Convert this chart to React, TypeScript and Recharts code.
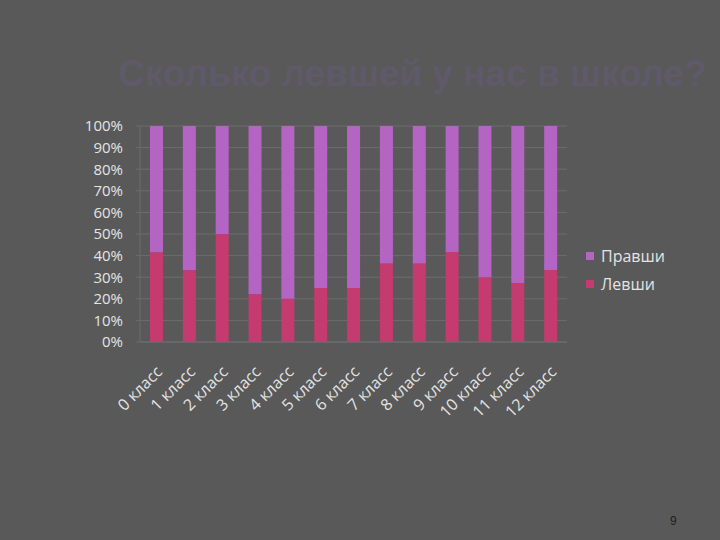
import React from "react";
import { BarChart, Bar, XAxis, YAxis, CartesianGrid } from "recharts";

const grades = ["0 класс", "1 класс", "2 класс", "3 класс", "4 класс", "5 класс", "6 класс", "7 класс", "8 класс", "9 класс", "10 класс", "11 класс", "12 класс"];
const leftHanded = [41.5, 33.3, 50, 22.2, 20, 25, 25, 36.4, 36.4, 41.7, 30, 27.3, 33.3];
const rightHanded = [58.5, 66.7, 50, 77.8, 80, 75, 75, 63.6, 63.6, 58.3, 70, 72.7, 66.7];
const yTicks = [0, 0.1, 0.2, 0.3, 0.4, 0.5, 0.6, 0.7, 0.8, 0.9, 1];

const data = grades.map((g, i) => ({ grade: g, left: leftHanded[i], right: rightHanded[i] }));

const LEFT_COLOR = "#c53b6f";
const RIGHT_COLOR = "#b465c3";
const TEXT = "#e4e4e4";
const FONT = "'Open Sans', sans-serif";

const GradeTick = (props: any) => {
  const { x, y, payload } = props;
  return (
    <g transform={`translate(${x + 4},${y + 20})`}>
      <text textAnchor="end" transform="rotate(-45)" fill={TEXT} fontSize={16} fontFamily={FONT} dy={4}>
        {payload.value}
      </text>
    </g>
  );
};

// legend drawn outside the chart so it doesn't eat plot space
const legendItems = [
  { name: "Правши", color: RIGHT_COLOR },
  { name: "Левши", color: LEFT_COLOR },
];

export default function App() {
  return (
    <div style={{ position: "absolute", left: 0, top: 0, width: 720, height: 540, background: "#595959", overflow: "hidden" }}>
      <div
        style={{
          position: "absolute",
          left: 118,
          top: 53,
          fontFamily: "'Liberation Sans', Arial, sans-serif",
          fontWeight: "bold",
          fontSize: 37,
          color: "#5e5a69",
          whiteSpace: "nowrap",
        }}
      >
        Сколько левшей у нас в школе?
      </div>
      <BarChart
        width={720}
        height={540}
        data={data}
        stackOffset="expand"
        barSize={13}
        margin={{ top: 126, right: 153, left: 0, bottom: 98 }}
      >
        <CartesianGrid vertical={false} stroke="#6d6d6d" />
        <XAxis
          dataKey="grade"
          height={100}
          interval={0}
          tick={<GradeTick />}
          tickLine={false}
          axisLine={{ stroke: "#6d6d6d" }}
        />
        <YAxis
          width={140}
          ticks={yTicks}
          interval={0}
          domain={[0, 1]}
          tickFormatter={(v: number) => `${Math.round(v * 100)}%`}
          tick={{ fill: TEXT, fontSize: 15, fontFamily: FONT }}
          tickSize={4}
          tickMargin={13}
          tickLine={{ stroke: "#6d6d6d" }}
          axisLine={{ stroke: "#6d6d6d" }}
        />
        <Bar dataKey="left" name="Левши" stackId="a" fill={LEFT_COLOR} isAnimationActive={false} />
        <Bar dataKey="right" name="Правши" stackId="a" fill={RIGHT_COLOR} isAnimationActive={false} />
      </BarChart>
      <div style={{ position: "absolute", left: 586, top: 242, fontFamily: FONT, fontSize: 16, color: TEXT, lineHeight: "28px" }}>
        {legendItems.map((item) => (
          <div key={item.name} style={{ display: "flex", alignItems: "center" }}>
            <span style={{ width: 8, height: 8, background: item.color, marginRight: 7, display: "inline-block" }} />
            {item.name}
          </div>
        ))}
      </div>
      <div style={{ position: "absolute", left: 670, top: 514, fontFamily: "'Liberation Sans', Arial, sans-serif", fontSize: 12, color: "#1e1e1e" }}>
        9
      </div>
    </div>
  );
}
